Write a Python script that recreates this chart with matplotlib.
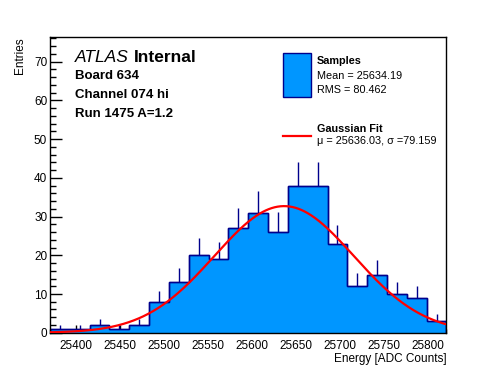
"""
Pulse energy distribution for one channel with a Gaussian fit (ATLAS style)
"""
import numpy as np
import matplotlib
matplotlib.use('Agg')
import matplotlib.pyplot as plt
from matplotlib.patches import Rectangle
from matplotlib.lines import Line2D
from matplotlib.ticker import MultipleLocator

plt.rcParams['font.family'] = ['Liberation Sans', 'DejaVu Sans']

# Histogram data
x_lo, x_hi, n_bins = 25370.0, 25820.6, 20
counts = [1, 1, 2, 1, 2, 8, 13, 20, 19, 27,
          31, 26, 38, 38, 23, 12, 15, 10, 9, 3]

# Fit results
fit_const = 32.7
fit_mu = 25636.03
fit_sigma = 79.159
sample_mean = 25634.19
sample_rms = 80.462

board = 634
channel = '074 hi'
run_label = 'Run 1475 A=1.2'

edges = np.linspace(x_lo, x_hi, n_bins + 1)
centers = 0.5 * (edges[:-1] + edges[1:])
counts = np.array(counts, dtype=float)

W, H = 496, 372
fig = plt.figure(figsize=(W / 100, H / 100), dpi=100)
ax = fig.add_axes([0.1008, 0.1056, 0.7994, 0.7941])

fill_c = '#0096ff'
edge_c = '#00008c'

# upper error bars (lower halves are hidden by the fill in the original)
ax.vlines(centers, counts, counts + np.sqrt(counts), color=edge_c, lw=1.0, zorder=3)
ax.stairs(counts, edges, fill=True, facecolor=fill_c, edgecolor=edge_c, lw=1.0, zorder=2)
ax.stairs(counts, edges, fill=False, edgecolor=edge_c, lw=1.0, zorder=2.5)

xf = np.linspace(x_lo, x_hi, 400)
ax.plot(xf, fit_const * np.exp(-0.5 * ((xf - fit_mu) / fit_sigma) ** 2),
        color='red', lw=1.6, zorder=4)

ax.set_xlim(x_lo, x_hi)
ax.set_ylim(0, 76.3)

ax.xaxis.set_major_locator(MultipleLocator(50))
ax.xaxis.set_minor_locator(MultipleLocator(10))
ax.yaxis.set_major_locator(MultipleLocator(10))
ax.yaxis.set_minor_locator(MultipleLocator(2))
ax.tick_params(axis='both', which='both', direction='in', labelsize=8.5)
ax.tick_params(axis='x', which='major', length=6, width=1, pad=5)
ax.tick_params(axis='x', which='minor', length=3, width=1)
ax.tick_params(axis='y', which='major', length=8.5, width=1, pad=2)
ax.tick_params(axis='y', which='minor', length=4.3, width=1)
for s in ax.spines.values():
    s.set_linewidth(1.0)

ax.set_xlabel('Energy [ADC Counts]', fontsize=8.5, loc='right', labelpad=1)
ax.set_ylabel('Entries', fontsize=8.5, loc='top', labelpad=6)


def fx(px):
    return px / W


def fy(py):
    return 1 - py / H


# ATLAS label block
fig.text(fx(75), fy(57), 'ATLAS', fontsize=12.5, style='italic', va='center')
fig.text(fx(134), fy(57), 'Internal', fontsize=12.5, weight='bold', va='center')
fig.text(fx(75), fy(76), f'Board {board}', fontsize=9.5, weight='bold', va='center')
fig.text(fx(75), fy(95), f'Channel {channel}', fontsize=9.5, weight='bold', va='center')
fig.text(fx(75), fy(114), run_label, fontsize=9.5, weight='bold', va='center')

# legend
fig.patches.append(Rectangle((fx(283), fy(96.7)), fx(311) - fx(283), fy(53.3) - fy(96.7),
                             transform=fig.transFigure, facecolor=fill_c,
                             edgecolor=edge_c, lw=1.0))
fig.lines.append(Line2D([fx(283), fx(311)], [fy(136), fy(136)],
                        transform=fig.transFigure, color='red', lw=1.6))
fig.text(fx(317), fy(61), 'Samples', fontsize=7.8, weight='bold', va='center')
fig.text(fx(317), fy(76), f'Mean = {sample_mean:.2f}', fontsize=7.8, va='center')
fig.text(fx(317), fy(90), f'RMS = {sample_rms:.3f}', fontsize=7.8, va='center')
fig.text(fx(317), fy(129), 'Gaussian Fit', fontsize=7.8, weight='bold', va='center')
fig.text(fx(317), fy(141), f'\u03bc = {fit_mu:.2f}, \u03c3 ={fit_sigma:.3f}',
         fontsize=7.8, va='center', zorder=10)

fig.savefig('out.png', dpi=100)
print("Saved out.png")
